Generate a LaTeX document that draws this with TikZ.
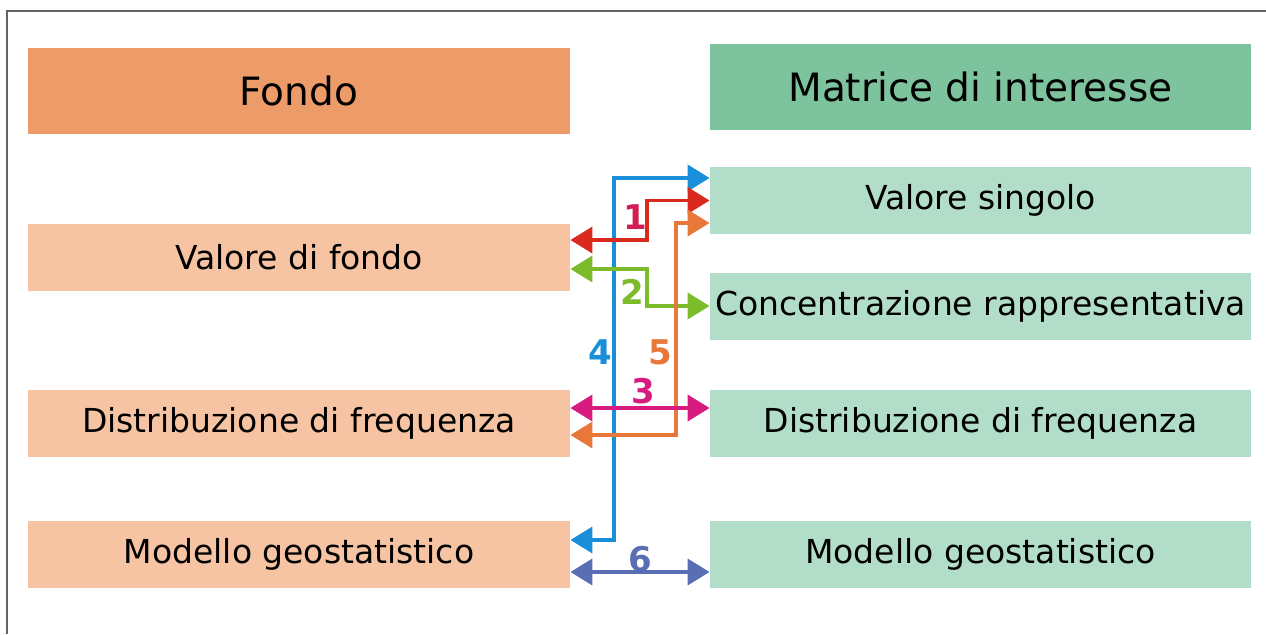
\documentclass[tikz,border=0pt]{standalone}
\usepackage{fontspec}
\setmainfont{DejaVu Sans}
\usetikzlibrary{arrows.meta}
\definecolor{hdrL}{RGB}{238,155,106}
\definecolor{hdrR}{RGB}{125,196,158}
\definecolor{boxL}{RGB}{246,196,162}
\definecolor{boxR}{RGB}{178,222,201}
\definecolor{cA}{RGB}{218,42,30}
\definecolor{cAl}{RGB}{207,31,85}
\definecolor{cB}{RGB}{124,187,44}
\definecolor{cC}{RGB}{216,27,127}
\definecolor{cD}{RGB}{26,143,217}
\definecolor{cE}{RGB}{232,119,58}
\definecolor{cF}{RGB}{90,110,180}
\definecolor{frameC}{RGB}{100,100,100}
\tikzset{
  hdr/.style={inner sep=0pt, minimum height=43pt, font=\fontsize{19.5}{23}\selectfont},
  lbox/.style={fill=boxL, inner sep=0pt, minimum width=271pt, minimum height=33.5pt, font=\fontsize{16.5}{20}\selectfont},
  rbox/.style={fill=boxR, inner sep=0pt, minimum width=270.5pt, minimum height=33.5pt, font=\fontsize{16.5}{20}\selectfont},
  conn/.style={line width=1.9pt, {Triangle[length=11pt,width=13pt]}-{Triangle[length=11pt,width=13pt]}},
  num/.style={font=\fontsize{17}{20}\selectfont\bfseries, inner sep=0pt}
}
\begin{document}
\begin{tikzpicture}[x=0.5pt,y=-0.5pt]
\useasboundingbox (0,0) rectangle (1266,634);
\coordinate (fa) at (7,634);
\coordinate (fb) at (7,11);
\coordinate (fc) at (1266,11);
\draw[frameC, line width=0.8pt] (fa) -- (fb) -- (fc);

\node[hdr, fill=hdrL, minimum width=271pt] (hf) at (299,91) {Fondo};
\node[hdr, fill=hdrR, minimum width=270.5pt] (hm) at (980.5,87) {Matrice di interesse};

\node[lbox] (vf) at (299,257.5) {Valore di fondo};
\node[lbox] (dl) at (299,423.5) {Distribuzione di frequenza};
\node[lbox] (ml) at (299,554.5) {Modello geostatistico};

\node[rbox] (vs) at (980.5,200.5) {Valore singolo};
\node[rbox] (cr) at (980.5,306) {Concentrazione rappresentativa};
\node[rbox] (dr) at (980.5,423.5) {Distribuzione di frequenza};
\node[rbox] (mr) at (980.5,554.5) {Modello geostatistico};

% bend columns
\coordinate (xA) at (647,0);
\coordinate (xE) at (676,0);
\coordinate (xD) at (614,0);

% 4 (blue)
\coordinate (d1) at ([yshift=11.25pt]vs.west);
\coordinate (d2) at ([yshift=7.25pt]ml.east);
\draw[conn, cD] (d1) -| (xD |- d2) -- (d2);
% 1 (red)
\coordinate (a1) at ([yshift=8.75pt]vf.east);
\coordinate (a2) at (vs.west);
\draw[conn, cA] (a1) -| (xA |- a2) -- (a2);
% 2 (green)
\coordinate (b1) at ([yshift=-5.75pt]vf.east);
\coordinate (b2) at (cr.west);
\draw[conn, cB] (b1) -| (xA |- b2) -- (b2);
% 5 (orange)
\coordinate (e1) at ([yshift=-11.25pt]vs.west);
\coordinate (e2) at ([yshift=-5.75pt]dl.east);
\draw[conn, cE] (e1) -| (xE |- e2) -- (e2);
% 3 (magenta)
\coordinate (c1) at ([yshift=7.75pt]dl.east);
\coordinate (c2) at ([yshift=7.75pt]dr.west);
\draw[conn, cC] (c1) -- (c2);
% 6 (slate blue)
\coordinate (f1) at ([yshift=-8.75pt]ml.east);
\coordinate (f2) at ([yshift=-8.75pt]mr.west);
\draw[conn, cF] (f1) -- (f2);

\node[num, text=cAl] (n1) at (635,217) {1};
\node[num, text=cB] (n2) at (632,292) {2};
\node[num, text=cC] (n3) at (643,391) {3};
\node[num, text=cD] (n4) at (600,352) {4};
\node[num, text=cE] (n5) at (660,352) {5};
\node[num, text=cF] (n6) at (640,559) {6};
\end{tikzpicture}
\end{document}
